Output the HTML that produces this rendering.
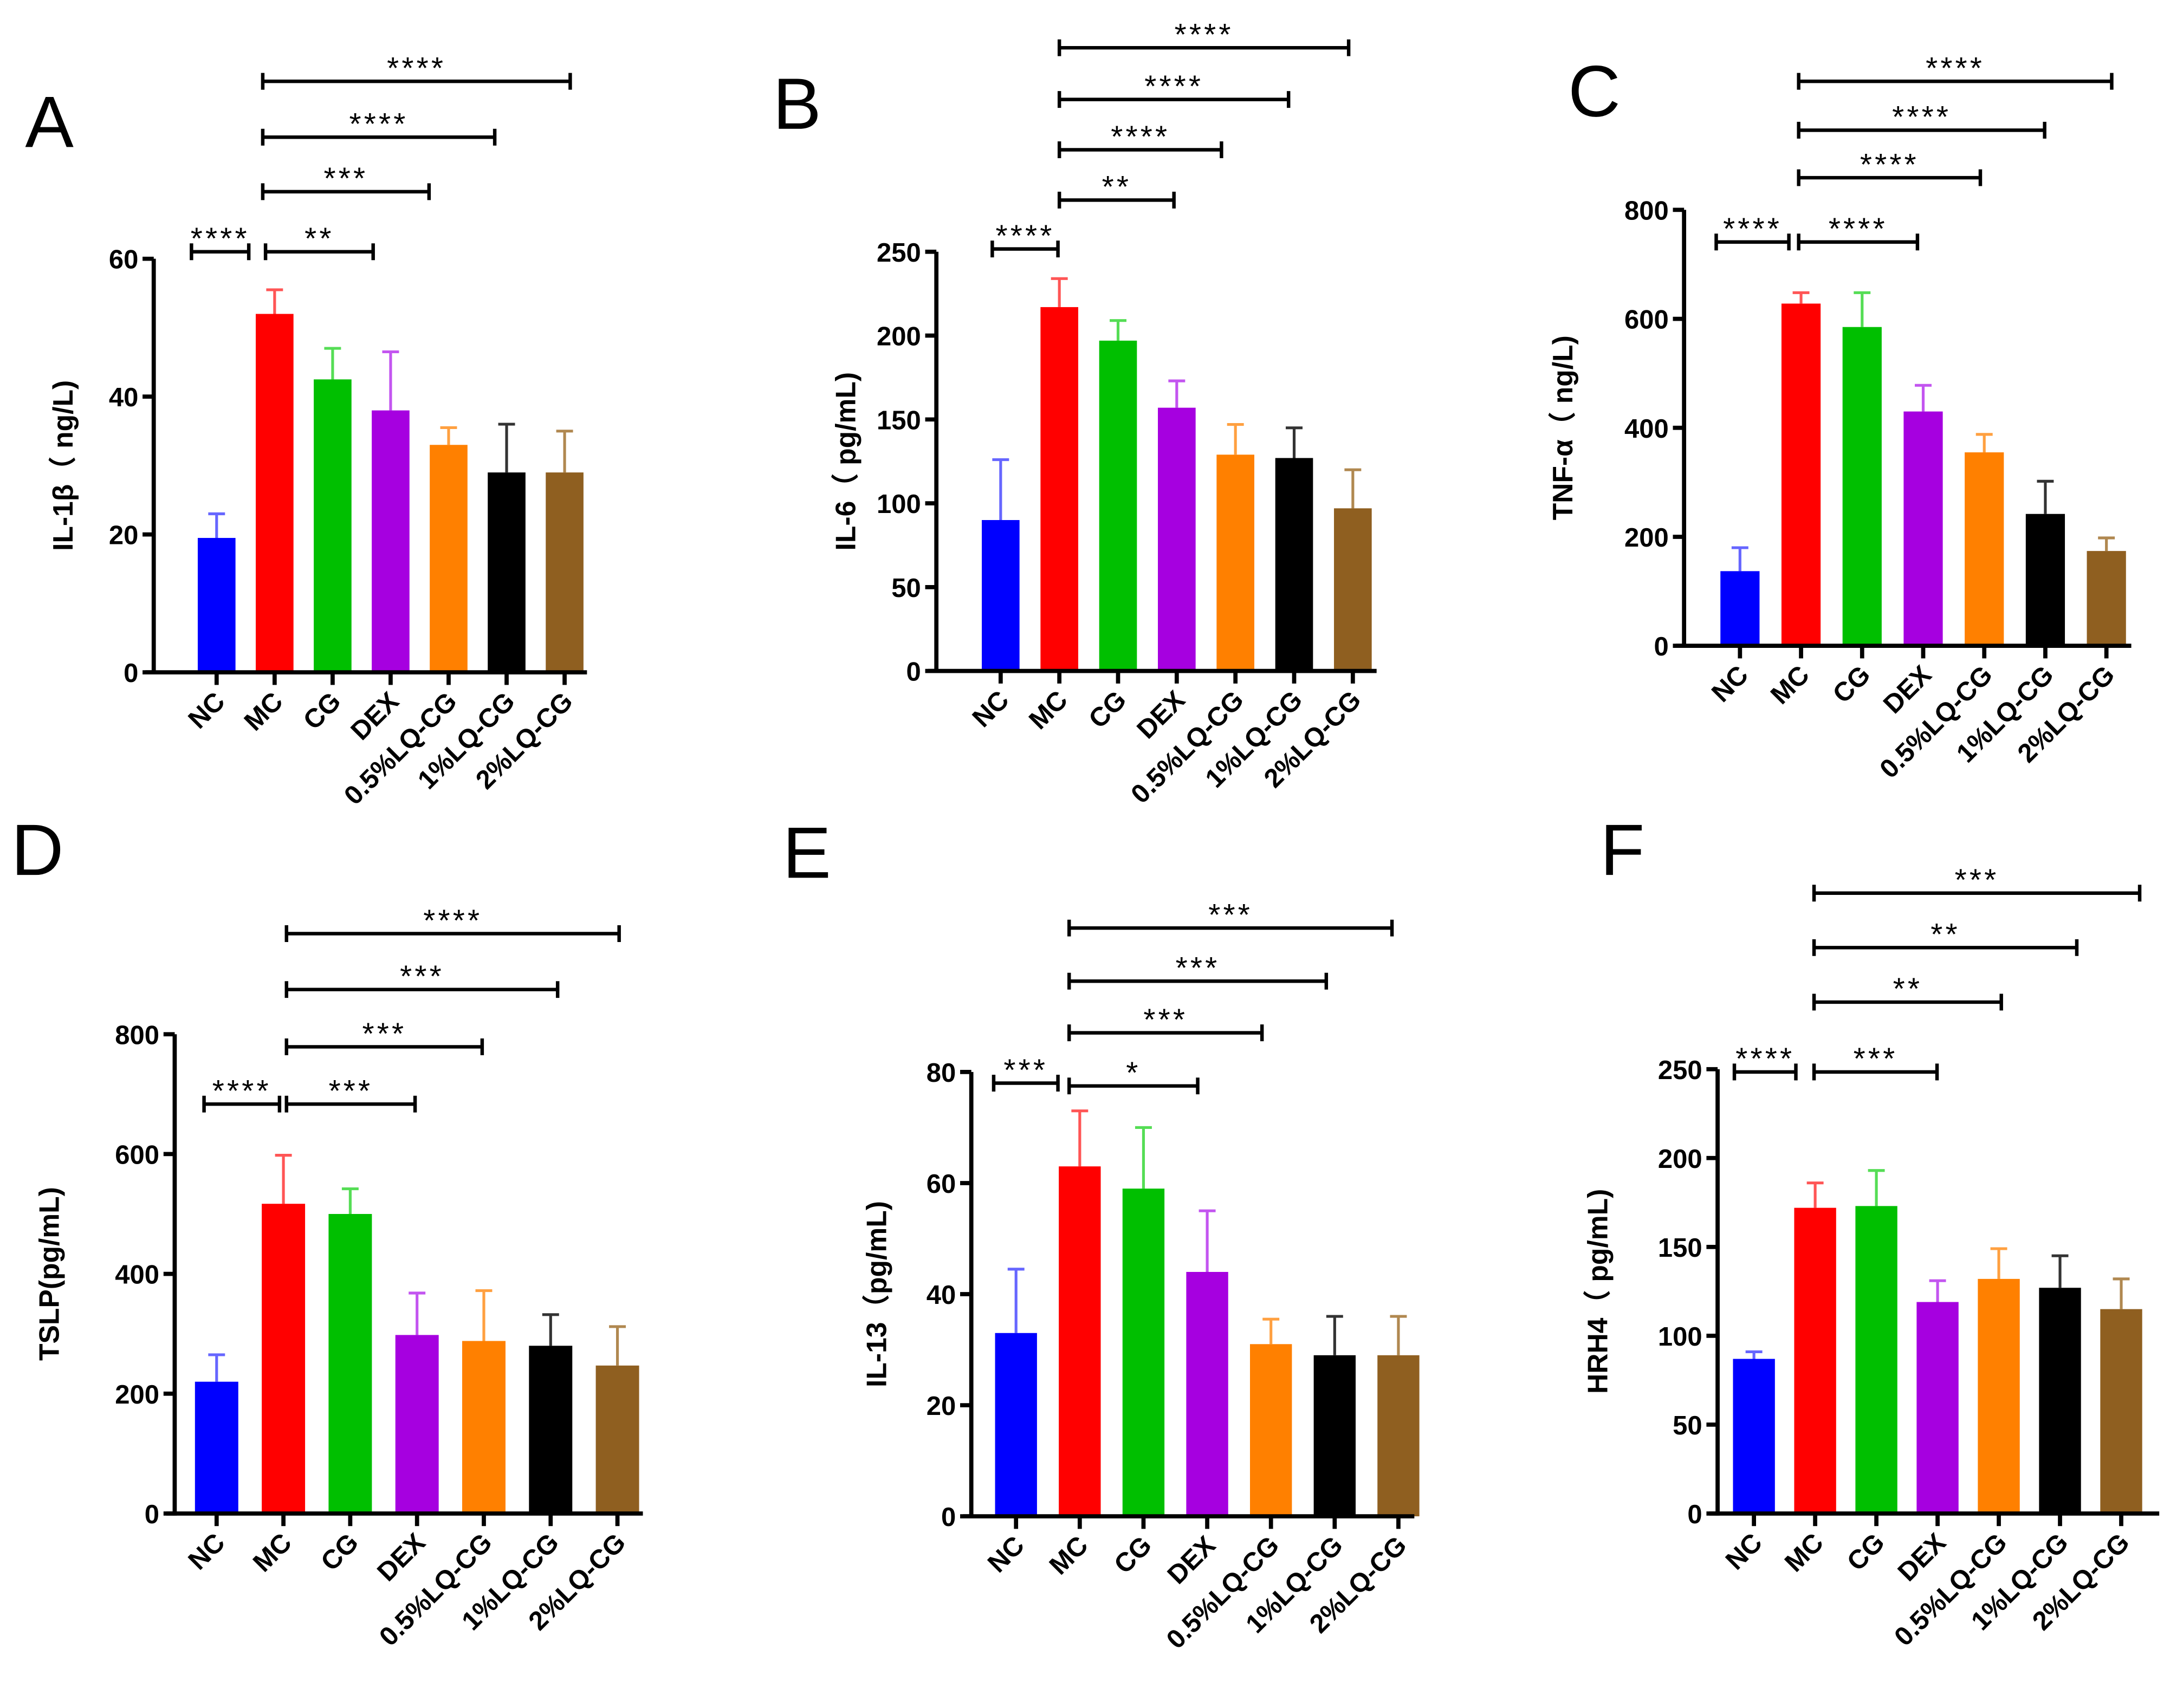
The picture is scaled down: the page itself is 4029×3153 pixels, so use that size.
<!DOCTYPE html>
<html><head><meta charset="utf-8"><style>
html,body{margin:0;padding:0;background:#fff}
svg{display:block;font-family:"Liberation Sans","Noto Sans CJK SC",sans-serif}
</style></head><body>
<svg id="fig" width="4029" height="3153" viewBox="0 0 1562 1222" xmlns="http://www.w3.org/2000/svg"></svg>
<script>
const categories = ["NC","MC","CG","DEX","0.5%LQ-CG","1%LQ-CG","2%LQ-CG"];
const colors = ["#0000ff","#ff0000","#00bf00","#a600e0","#ff8000","#000000","#8f5f20"];
const errColors = ["#6666ff","#ff5555","#55dd55","#c355f0","#ffa040","#333333","#b08850"];

const aMeans = [19.5,52,42.5,38,33,29,29];
const aErrTop = [23,55.5,47,46.5,35.5,36,35];
const aTicks = [0,20,40,60];
const aStars = ["****","**","***","****","****"];

const bMeans = [90,217,197,157,129,127,97];
const bErrTop = [126,234,209,173,147,145,120];
const bTicks = [0,50,100,150,200,250];
const bStars = ["****","**","****","****","****"];

const cMeans = [137,628,585,430,355,242,174];
const cErrTop = [180,648,648,478,388,302,198];
const cTicks = [0,200,400,600,800];
const cStars = ["****","****","****","****","****"];

const dMeans = [220,517,500,298,288,280,247];
const dErrTop = [265,598,542,368,372,332,312];
const dTicks = [0,200,400,600,800];
const dStars = ["****","***","***","***","****"];

const eMeans = [33,63,59,44,31,29,29];
const eErrTop = [44.5,73,70,55,35.5,36,36];
const eTicks = [0,20,40,60,80];
const eStars = ["***","*","***","***","***"];

const fMeans = [87,172,173,119,132,127,115];
const fErrTop = [91,186,193,131,149,145,132];
const fTicks = [0,50,100,150,200,250];
const fStars = ["****","***","**","**","***"];

const NS="http://www.w3.org/2000/svg";
const svg=document.getElementById('fig');
function mk(tag,attrs,parent){const e=document.createElementNS(NS,tag);for(const k in attrs)e.setAttribute(k,attrs[k]);(parent||svg).appendChild(e);return e;}

const panels=[
 {id:"a",letter:"A",lx:18,ly:105,ax:110,y0:481,yTop:185,max:60,x0:155,dx:41.5,bw:27,xEnd:420,title:"IL-1β（ ng/L)",tx:52,means:aMeans,err:aErrTop,ticks:aTicks,stars:aStars,
  br:[[137,178,180],[190,267,180],[188,307,137],[188,354,98],[188,408,58]]},
 {id:"b",letter:"B",lx:553,ly:92,ax:670,y0:480,yTop:180,max:250,x0:716,dx:42,bw:27,xEnd:985,title:"IL-6（ pg/mL)",tx:612,means:bMeans,err:bErrTop,ticks:bTicks,stars:bStars,
  br:[[710,757,178],[758,840,143],[758,874,107],[758,922,71],[758,965,34]]},
 {id:"c",letter:"C",lx:1122,ly:83,ax:1205,y0:462,yTop:150,max:800,x0:1245,dx:43.7,bw:28,xEnd:1525,title:"TNF-α（ ng/L)",tx:1125,means:cMeans,err:cErrTop,ticks:cTicks,stars:cStars,
  br:[[1228,1280,173],[1287,1372,173],[1287,1417,127],[1287,1463,93],[1287,1511,58]]},
 {id:"d",letter:"D",lx:8,ly:626,ax:125,y0:1083,yTop:740,max:800,x0:155,dx:47.8,bw:31,xEnd:460,title:"TSLP(pg/mL)",tx:42,means:dMeans,err:dErrTop,ticks:dTicks,stars:dStars,
  br:[[146,200,790],[205,297,790],[205,345,749],[205,399,708],[205,443,668]]},
 {id:"e",letter:"E",lx:560,ly:628,ax:695,y0:1085,yTop:767,max:80,x0:727,dx:45.6,bw:30,xEnd:1012,title:"IL-13（pg/mL)",tx:634,means:eMeans,err:eErrTop,ticks:eTicks,stars:eStars,
  br:[[711,757,775],[765,857,777],[765,903,739],[765,949,702],[765,996,664]]},
 {id:"f",letter:"F",lx:1145,ly:626,ax:1229,y0:1083,yTop:765,max:250,x0:1255,dx:43.8,bw:30,xEnd:1545,title:"HRH4（ pg/mL)",tx:1150,means:fMeans,err:fErrTop,ticks:fTicks,stars:fStars,
  br:[[1241,1285,767],[1298,1386,767],[1298,1432,717],[1298,1486,678],[1298,1531,639]]}
];

panels.forEach(p=>{
  const g=mk('g',{});
  
  
  const yS=v=>p.y0-(v/p.max)*(p.y0-p.yTop);
  const xS=i=>p.x0+i*p.dx;
  const L=mk('text',{x:p.lx,y:p.ly,'font-size':52,fill:'#000'},g);L.textContent=p.letter;
  
  
  p.means.forEach((v,i)=>{
    const cx=xS(i);
    const eb=mk('path',{d:`M${cx},${yS(v)}V${yS(p.err[i])}M${cx-6},${yS(p.err[i])}H${cx+6}`,stroke:errColors[i],'stroke-width':2,fill:'none'},g);
    
    
    const r=mk('rect',{x:cx-p.bw/2,y:yS(v),width:p.bw,height:p.y0-yS(v),fill:colors[i]},g);
    
    
  });
  const ya=mk('line',{x1:p.ax,y1:p.y0+1.5,x2:p.ax,y2:p.yTop,stroke:'#000','stroke-width':3},g);
  
  
  const xa=mk('line',{x1:p.ax-6,y1:p.y0,x2:p.xEnd,y2:p.y0,stroke:'#000','stroke-width':3},g);
  
  
  p.ticks.forEach(t=>{
    mk('line',{x1:p.ax-8,y1:yS(t),x2:p.ax,y2:yS(t),stroke:'#000','stroke-width':3},g);
    const tl=mk('text',{x:p.ax-11,y:yS(t)+7,'font-size':19,'font-weight':'bold','text-anchor':'end'},g);
    tl.textContent=t;
    
    
  });
  categories.forEach((c,i)=>{
    const cx=xS(i);
    mk('line',{x1:cx,y1:p.y0,x2:cx,y2:p.y0+9,stroke:'#000','stroke-width':3},g);
    const tl=mk('text',{x:cx+7,y:p.y0+22,'font-size':19,'font-weight':'bold','text-anchor':'end',transform:`rotate(-45 ${cx+7} ${p.y0+22})`},g);
    tl.textContent=c;
    
    
  });
  const yc=(p.y0+p.yTop)/2;
  const tt=mk('text',{x:p.tx,y:yc,'font-size':20,'font-weight':'bold','text-anchor':'middle',transform:`rotate(-90 ${p.tx} ${yc})`},g);
  tt.textContent=p.title;
  
  
  p.br.forEach((b,k)=>{
    const [x1,x2,y]=b;
    const bp=mk('path',{d:`M${x1},${y-6}V${y+6}M${x1},${y}H${x2}M${x2},${y-6}V${y+6}`,stroke:'#000','stroke-width':2.5,fill:'none'},g);
    
    
    const st=mk('text',{x:(x1+x2)/2,y:y-2,'font-size':22,'text-anchor':'middle','letter-spacing':2},g);
    st.textContent=p.stars[k];
    
    
  });
});
</script>
</body></html>
